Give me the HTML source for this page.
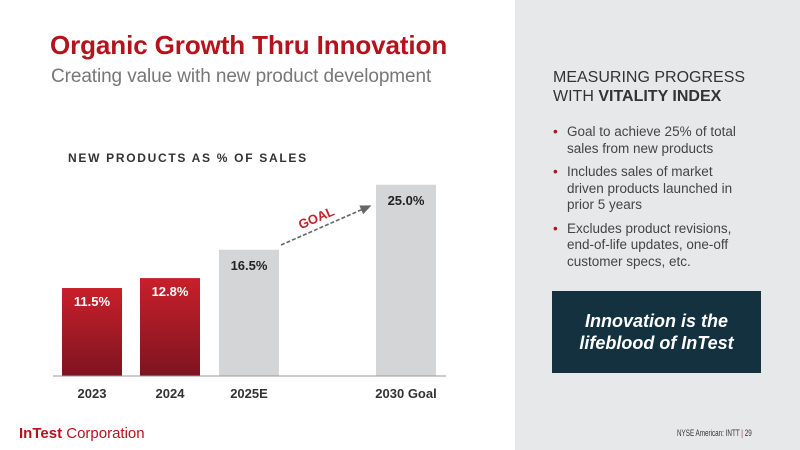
<!DOCTYPE html>
<html><head><meta charset="utf-8"><style>
body{margin:0;width:800px;height:450px;overflow:hidden;background:#fff;font-family:"Liberation Sans",sans-serif;position:relative}
.abs{position:absolute}
</style></head><body>
<div class="abs" style="left:515px;top:0;width:285px;height:450px;background:#e7e8ea"></div>
<div class="abs" style="left:50px;top:30px;font-size:26px;font-weight:bold;color:#b5121b;white-space:nowrap;letter-spacing:-0.1px">Organic Growth Thru Innovation</div>
<div class="abs" style="left:51px;top:66px;font-size:19px;color:#777;white-space:nowrap;letter-spacing:-0.1px">Creating value with new product development</div>
<div class="abs" style="left:68px;top:151px;font-size:12px;font-weight:bold;letter-spacing:1.7px;color:#333;white-space:nowrap">NEW PRODUCTS AS % OF SALES</div>
<svg class="abs" style="left:0;top:0" width="515" height="450">
<defs>
<linearGradient id="rg" x1="0" y1="0" x2="0" y2="1"><stop offset="0" stop-color="#c8202a"/><stop offset="1" stop-color="#7d1420"/></linearGradient>
<marker id="ah" markerWidth="8" markerHeight="8" refX="6" refY="4" orient="auto"><path d="M0,1 L7,4 L0,7 z" fill="#666"/></marker>
</defs>
<g id="bars"></g>
<line x1="53" y1="376" x2="446" y2="376" stroke="#999" stroke-width="1"/>
<line x1="281" y1="245" x2="370" y2="206" stroke="#666" stroke-width="1.6" stroke-dasharray="4,2" marker-end="url(#ah)"/>
<text x="318" y="222" transform="rotate(-23 318 222)" font-size="13" font-weight="bold" fill="#c8202a" text-anchor="middle">GOAL</text>
</svg>
<script>
const categories=["2023","2024","2025E","2030 Goal"];
const values=[11.5,12.8,16.5,25.0];
const labels=["11.5%","12.8%","16.5%","25.0%"];
const actual=[true,true,false,false];
const centers=[92,170,249,406];
const base=376,scale=7.65,bw=60;
const y=v=>base-v*scale;
const g=document.getElementById('bars');
const NS='http://www.w3.org/2000/svg';
values.forEach((v,i)=>{
 const r=document.createElementNS(NS,'rect');
 r.setAttribute('x',centers[i]-bw/2);r.setAttribute('y',y(v));
 r.setAttribute('width',bw);r.setAttribute('height',base-y(v));
 r.setAttribute('fill',actual[i]?'url(#rg)':'#d4d5d7');
 
 
 g.appendChild(r);
 const t=document.createElementNS(NS,'text');
 t.setAttribute('x',centers[i]);t.setAttribute('y',y(v)+(actual[i]?18:20));
 t.setAttribute('text-anchor','middle');t.setAttribute('font-size','13');t.setAttribute('font-weight','bold');
 t.setAttribute('fill',actual[i]?'#fff':'#222');
 t.textContent=labels[i];
 
 
 g.appendChild(t);
 const c=document.createElementNS(NS,'text');
 c.setAttribute('x',centers[i]);c.setAttribute('y',398);
 c.setAttribute('text-anchor','middle');c.setAttribute('font-size','13');c.setAttribute('font-weight','bold');
 c.setAttribute('fill','#333');c.textContent=categories[i];
 
 
 g.appendChild(c);
});
</script>
<div class="abs" style="left:553px;top:68px;font-size:16px;line-height:19px;color:#333">MEASURING PROGRESS<br>WITH <b>VITALITY INDEX</b></div>
<div class="abs" style="left:553px;top:124px;width:205px;font-size:13.5px;line-height:16.5px;color:#444">
<div style="position:relative;padding-left:14px;margin-bottom:7px"><span style="position:absolute;left:0;color:#b5121b">•</span>Goal to achieve 25% of total sales from new products</div>
<div style="position:relative;padding-left:14px;margin-bottom:7px"><span style="position:absolute;left:0;color:#b5121b">•</span>Includes sales of market<br>driven products launched in prior 5 years</div>
<div style="position:relative;padding-left:14px"><span style="position:absolute;left:0;color:#b5121b">•</span>Excludes product revisions,<br>end-of-life updates, one-off customer specs, etc.</div>
</div>
<div class="abs" style="left:552px;top:291px;width:209px;height:82px;background:#14313f;color:#fff;font-size:18px;font-style:italic;font-weight:bold;text-align:center;line-height:22px;display:flex;align-items:center;justify-content:center">Innovation is the<br>lifeblood of InTest</div>
<div class="abs" style="left:19px;top:425px;font-size:15px;color:#b5121b;white-space:nowrap"><b>InTest</b> Corporation</div>
<div class="abs" style="left:677px;top:428px;font-size:9px;color:#333;white-space:nowrap;transform:scaleX(0.7);transform-origin:left center">NYSE American: INTT <span style="color:#b5121b">|</span> 29</div>
</body></html>
